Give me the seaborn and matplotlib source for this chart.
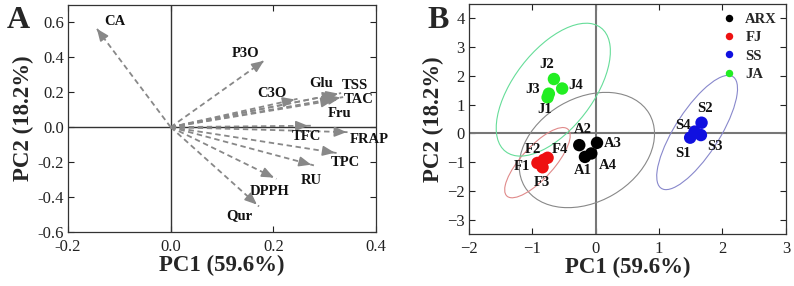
import matplotlib
matplotlib.use("Agg")
import matplotlib.pyplot as plt
from matplotlib.patches import Ellipse
import seaborn as sns
import pandas as pd
import numpy as np

# loadings (panel A)
variables = ['CA', 'P3O', 'C3O', 'Glu', 'TSS', 'TAC', 'Fru', 'TFC', 'FRAP', 'TPC', 'RU', 'DPPH', 'Qur']
pc1_load = [-0.147, 0.186, 0.247, 0.325, 0.332, 0.336, 0.322, 0.273, 0.348, 0.325, 0.279, 0.206, 0.172]
pc2_load = [0.576, 0.389, 0.162, 0.190, 0.195, 0.172, 0.156, 0.008, -0.029, -0.149, -0.219, -0.296, -0.454]

# scores (panel B)
samples = ['A1', 'A2', 'A3', 'A4', 'F1', 'F2', 'F3', 'F4', 'S1', 'S2', 'S3', 'S4', 'J1', 'J2', 'J3', 'J4']
groups = ['ARX'] * 4 + ['FJ'] * 4 + ['SS'] * 4 + ['JA'] * 4
pc1_score = [-0.17, -0.26, 0.02, -0.07, -0.92, -0.82, -0.84, -0.76, 1.49, 1.67, 1.66, 1.56, -0.76, -0.66, -0.74, -0.53]
pc2_score = [-0.82, -0.41, -0.33, -0.70, -1.03, -0.92, -1.18, -0.85, -0.15, 0.37, -0.06, 0.06, 1.25, 1.89, 1.38, 1.56]

# confidence ellipses: center x, center y, width, height, angle
ell_groups = ['ARX', 'FJ', 'SS', 'JA']
ell_cx = [-0.14, -0.92, 1.60, -0.67]
ell_cy = [-0.58, -1.02, 0.03, 1.52]
ell_w = [4.07, 2.58, 4.10, 4.75]
ell_h = [2.02, 0.62, 0.79, 1.43]
ell_ang = [78.7, 70.7, 75.6, 76.0]

# label positions (layout)
load_lab = {'CA': (-0.108, 0.605), 'P3O': (0.146, 0.424), 'C3O': (0.198, 0.195), 'Glu': (0.293, 0.248),
            'TSS': (0.359, 0.237), 'TAC': (0.367, 0.156), 'Fru': (0.328, 0.080), 'TFC': (0.265, -0.053),
            'FRAP': (0.387, -0.069), 'TPC': (0.341, -0.202), 'RU': (0.273, -0.307), 'DPPH': (0.192, -0.368),
            'Qur': (0.133, -0.508)}
score_lab = {'A1': (-0.21, -1.28), 'A2': (-0.21, 0.12), 'A3': (0.27, -0.37), 'A4': (0.19, -1.11),
             'F1': (-1.16, -1.17), 'F2': (-0.99, -0.55), 'F3': (-0.85, -1.71), 'F4': (-0.56, -0.55),
             'S1': (1.38, -0.70), 'S2': (1.72, 0.87), 'S3': (1.88, -0.47), 'S4': (1.38, 0.26),
             'J1': (-0.80, 0.82), 'J2': (-0.78, 2.39), 'J3': (-0.99, 1.52), 'J4': (-0.32, 1.66)}

pt_colors = {'ARX': '#000000', 'FJ': '#ee1111', 'SS': '#1010e0', 'JA': '#22ee22'}
ell_colors = {'ARX': '#888888', 'FJ': '#e08a8a', 'SS': '#8888cc', 'JA': '#66dd99'}

sns.set_theme(style="ticks")
plt.rcParams['font.family'] = ['Liberation Serif', 'DejaVu Serif']
plt.rcParams['axes.unicode_minus'] = True

fig = plt.figure(figsize=(7.94, 2.86), dpi=100)
axA = fig.add_axes([0.0856, 0.189, 0.388, 0.794])
axB = fig.add_axes([0.5907, 0.182, 0.399, 0.804])

lab_kw = dict(fontsize=16.5, fontweight='bold')
txt_kw = dict(fontsize=10.5, fontweight='bold', ha='center', va='center', color='#111111')

# ---- panel A
axA.axhline(0, color='#333333', lw=1.0, zorder=1)
axA.axvline(0, color='#333333', lw=1.0, zorder=1)
for v, x, y in zip(variables, pc1_load, pc2_load):
    axA.plot([0, x], [0, y], ls=(0, (3, 2)), color='#888888', lw=1.3, zorder=2)
    axA.annotate('', xy=(x, y), xytext=(0.9 * x, 0.9 * y),
                 arrowprops=dict(arrowstyle='-|>,head_length=0.6,head_width=0.25', color='#888888', lw=1.2),
                 zorder=3)
    axA.text(load_lab[v][0], load_lab[v][1], v, **txt_kw)
axA.set_xlim(-0.2, 0.4)
axA.set_ylim(-0.6, 0.7)
axA.set_xticks([-0.2, 0.0, 0.2, 0.4])
axA.set_yticks(np.arange(-0.6, 0.61, 0.2))
axA.xaxis.set_major_formatter(matplotlib.ticker.FormatStrFormatter('%.1f'))
axA.yaxis.set_major_formatter(matplotlib.ticker.FormatStrFormatter('%.1f'))
axA.set_xlabel('PC1 (59.6%)', labelpad=0, **lab_kw)
axA.set_ylabel('PC2 (18.2%)', labelpad=2, **lab_kw)

# ---- panel B
df = pd.DataFrame({'sample': samples, 'group': groups, 'PC1': pc1_score, 'PC2': pc2_score})
axB.axhline(0, color='#777777', lw=1.5, zorder=1)
axB.axvline(0, color='#777777', lw=1.5, zorder=1)
for g, cx, cy, w, h, a in zip(ell_groups, ell_cx, ell_cy, ell_w, ell_h, ell_ang):
    axB.add_patch(Ellipse((cx, cy), w, h, angle=a, fill=False, ec=ell_colors[g], lw=0.8, zorder=2))
sns.scatterplot(data=df, x='PC1', y='PC2', hue='group', palette=pt_colors, s=80,
                edgecolor='none', ax=axB, zorder=3, legend=True)
for s in samples:
    axB.text(score_lab[s][0], score_lab[s][1], s, **txt_kw)
axB.set_xlim(-2, 3)
axB.set_ylim(-3.5, 4.5)
axB.set_xticks(range(-2, 4))
axB.set_yticks(range(-3, 5))
axB.set_xlabel('PC1 (59.6%)', labelpad=0, **lab_kw)
axB.set_ylabel('PC2 (18.2%)', labelpad=2, **lab_kw)
leg = axB.legend(loc='upper right', bbox_to_anchor=(1.0, 1.0), frameon=False, markerscale=0.6,
                 handletextpad=0.1, labelspacing=0.35, borderaxespad=0.2,
                 prop={'weight': 'bold', 'size': 10.5})

for ax in (axA, axB):
    ax.tick_params(direction='in', top=True, right=True, length=4, width=0.8,
                   labelsize=12, colors='#222222', pad=3)
    ax.tick_params(axis='x', pad=5)
    for sp in ax.spines.values():
        sp.set_color('#333333')
        sp.set_linewidth(0.9)

fig.text(0.008, 0.93, 'A', fontsize=23, fontweight='bold', ha='left', va='center')
fig.text(0.538, 0.93, 'B', fontsize=23, fontweight='bold', ha='left', va='center')

fig.savefig('out.png', dpi=100)
